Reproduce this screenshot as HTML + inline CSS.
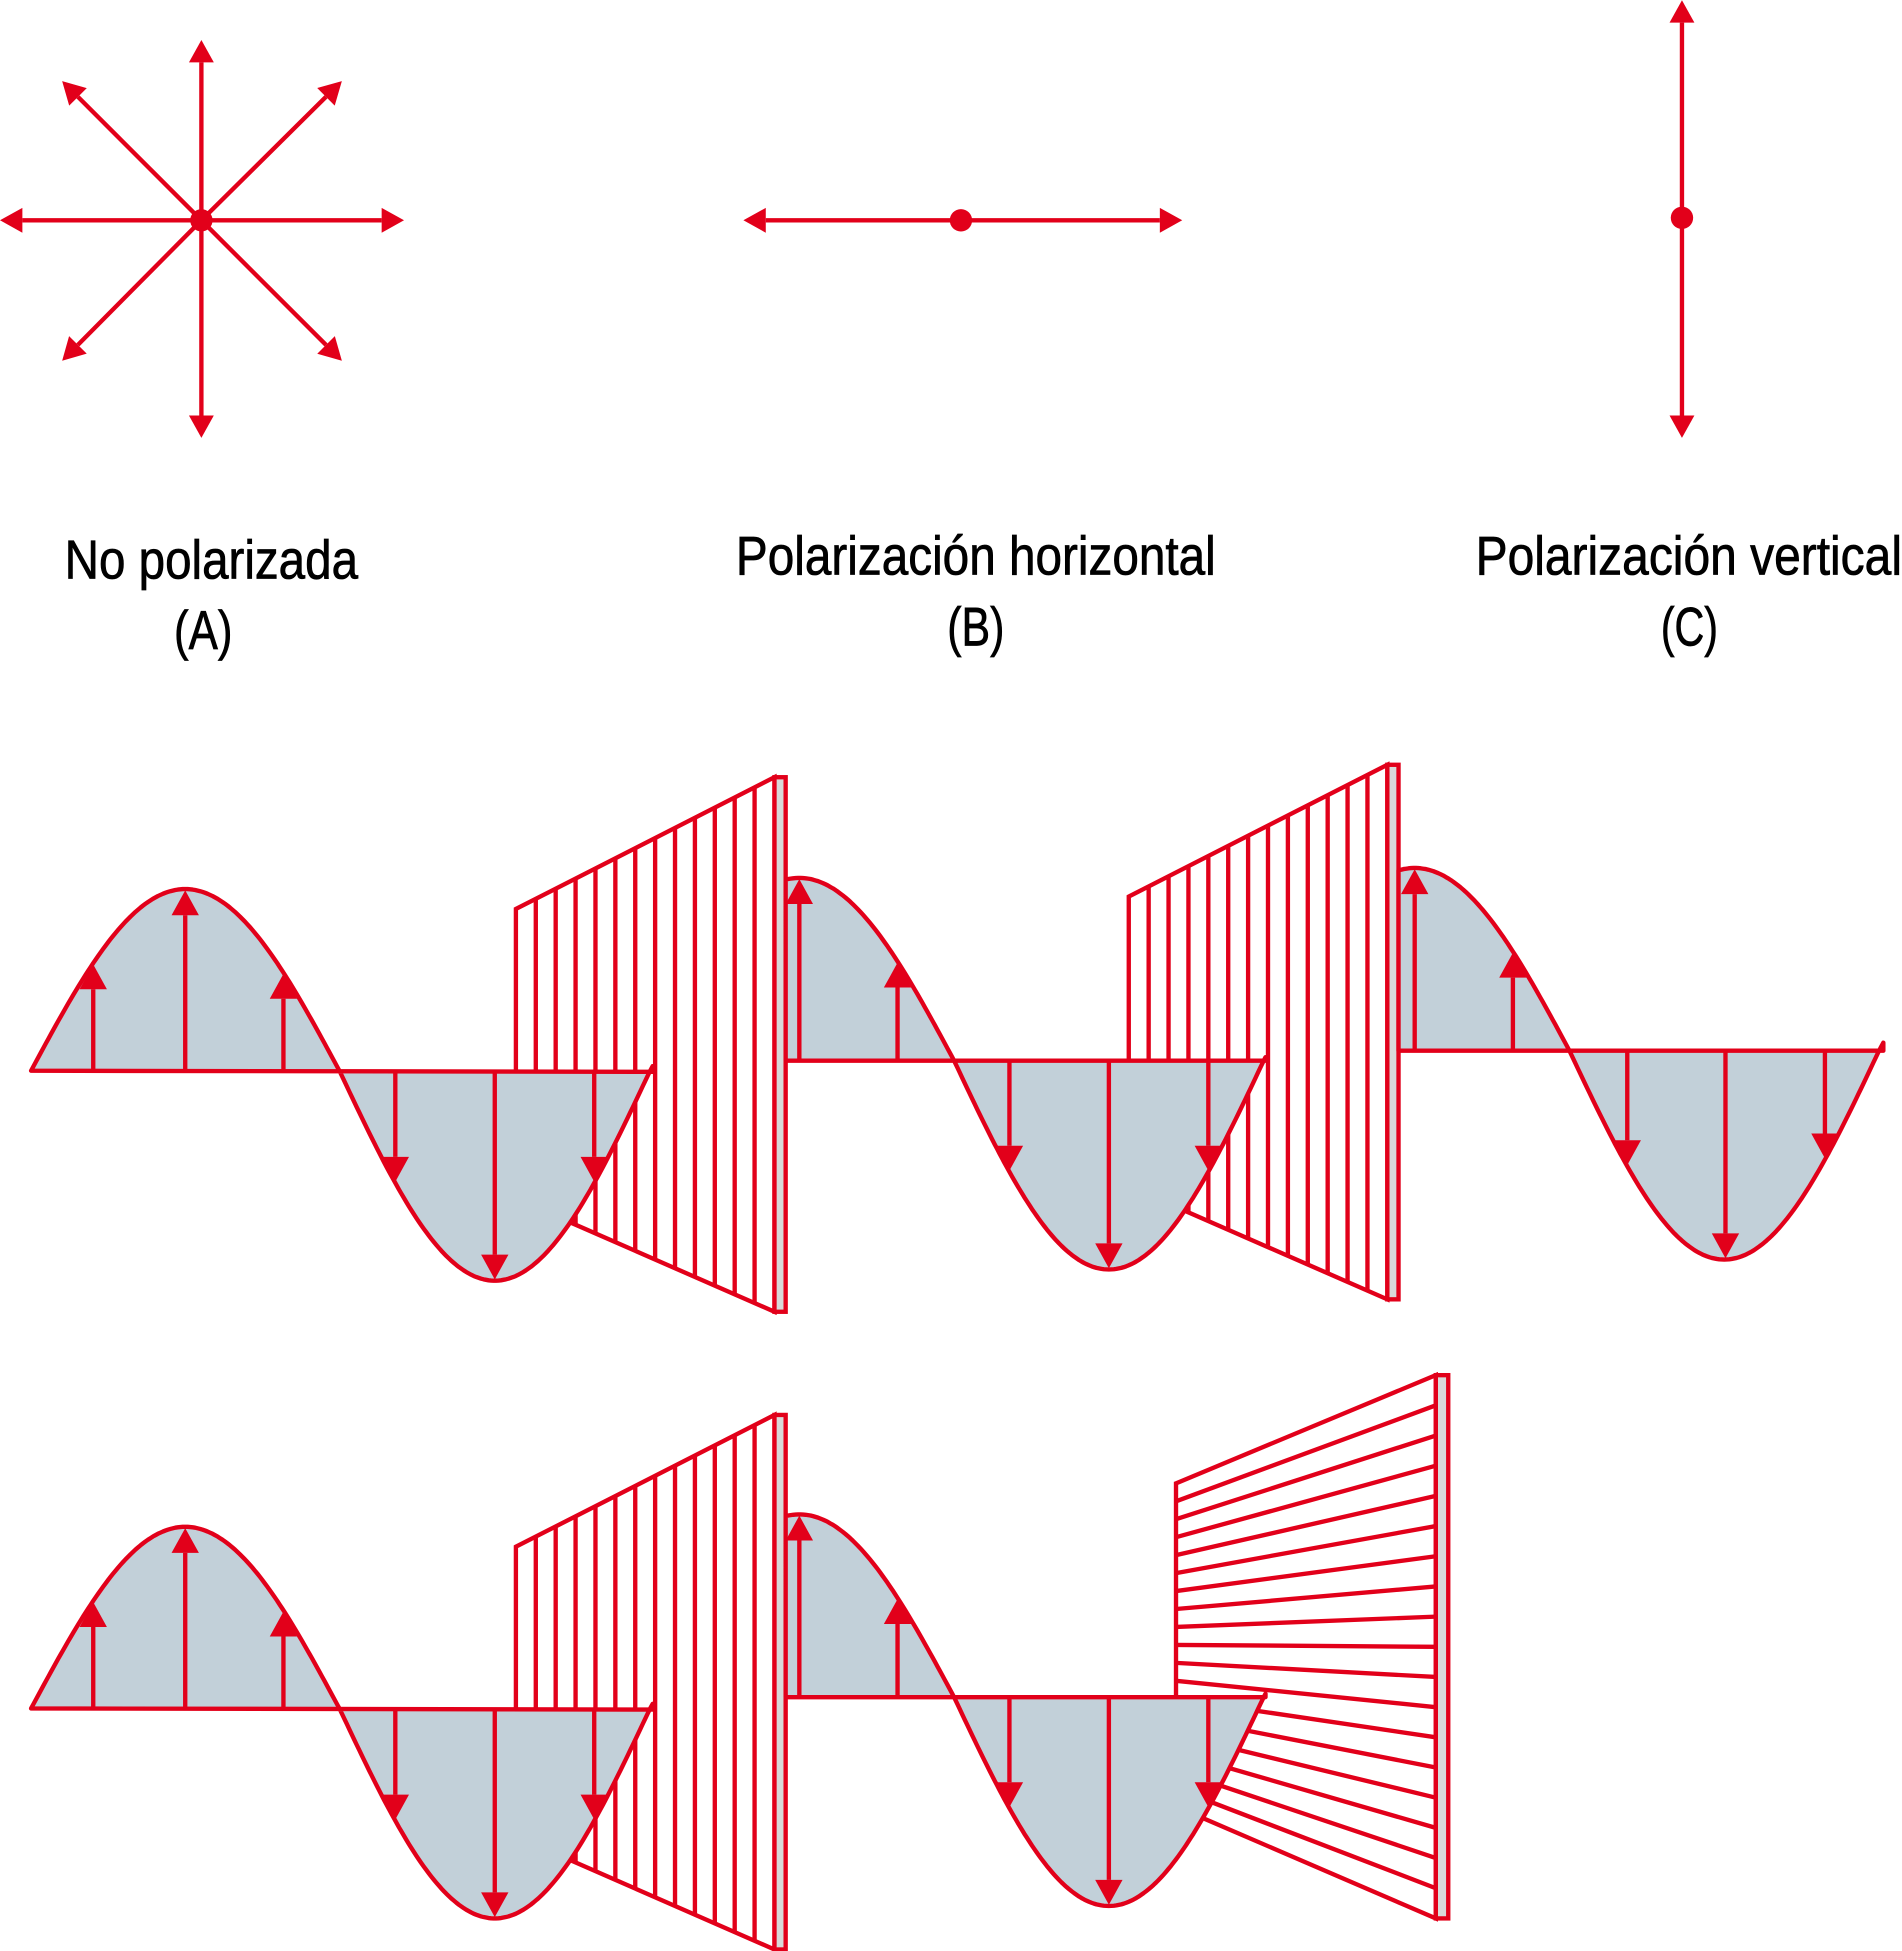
<!DOCTYPE html>
<html><head><meta charset="utf-8"><style>html,body{margin:0;padding:0;background:#fff}svg{display:block}</style></head>
<body>
<svg id="s" xmlns="http://www.w3.org/2000/svg" width="1902" height="1951" viewBox="0 0 1530 1569">
<g font-family="Liberation Sans, sans-serif" font-size="44" fill="#000" stroke="#000" stroke-width="0.6">
<text x="52" y="465" textLength="236" lengthAdjust="spacingAndGlyphs">No polarizada</text>
<text x="140" y="522" textLength="47" lengthAdjust="spacingAndGlyphs">(A)</text>
<text x="592" y="462" textLength="386" lengthAdjust="spacingAndGlyphs">Polarización horizontal</text>
<text x="762" y="519" textLength="46" lengthAdjust="spacingAndGlyphs">(B)</text>
<text x="1187" y="462" textLength="343" lengthAdjust="spacingAndGlyphs">Polarización vertical</text>
<text x="1336" y="519" textLength="46" lengthAdjust="spacingAndGlyphs">(C)</text>
</g>
<g id="g"></g>
</svg>
<script>
var R="#e2001a",F="#c2d0d9",out="",SW=3.5;
function arrow(x1,y1,x2,y2,L,W){var dx=x2-x1,dy=y2-y1,d=Math.hypot(dx,dy),ux=dx/d,uy=dy/d;var bx=x2-ux*L,by=y2-uy*L;
out+='<line x1="'+x1+'" y1="'+y1+'" x2="'+bx+'" y2="'+by+'" stroke="'+R+'" stroke-width="'+SW+'"/>';
out+='<polygon points="'+x2+','+y2+' '+(bx-uy*W/2)+','+(by+ux*W/2)+' '+(bx+uy*W/2)+','+(by-ux*W/2)+'" fill="'+R+'"/>';}
var cx=162,cy=177;
[[162,32],[162,352],[0,177],[325,177],[50,65],[275,65],[50,290],[275,290]].forEach(function(p){arrow(cx,cy,p[0],p[1],18,20);});
out+='<circle cx="162" cy="177" r="9" fill="'+R+'"/>';
arrow(773,177,598,177,18,20);arrow(773,177,951,177,18,20);out+='<circle cx="773" cy="177" r="9" fill="'+R+'"/>';
arrow(1353,175,1353,0,18,20);arrow(1353,175,1353,352,18,20);out+='<circle cx="1353" cy="175" r="9" fill="'+R+'"/>';
function polV(tx,ty){var xl=415,xr=623,tl=731,tr=625,bl=964,br=1055;
var s='<polygon points="'+(xl+tx)+','+(tl+ty)+' '+(xr+tx)+','+(tr+ty)+' '+(xr+tx)+','+(br+ty)+' '+(xl+tx)+','+(bl+ty)+'" fill="#fff" stroke="'+R+'" stroke-width="'+SW+'"/>';
for(var k=1;k<13;k++){var x=xl+k*16;var t=tl+(tr-tl)*(x-xl)/(xr-xl),b=bl+(br-bl)*(x-xl)/(xr-xl);
s+='<line x1="'+(x+tx)+'" y1="'+(t+ty)+'" x2="'+(x+tx)+'" y2="'+(b+ty)+'" stroke="'+R+'" stroke-width="'+SW+'"/>';}
s+='<rect x="'+(623+tx)+'" y="'+(625+ty)+'" width="9" height="430" fill="#d9d9d9" stroke="'+R+'" stroke-width="'+SW+'"/>';out+=s;}
polV(0,0);polV(493,-10);polV(0,513);
(function(){var xl=946,xr=1155,tl=1193,bl=1453,tr=1106,br=1543;
var s='<polygon points="'+xl+','+tl+' '+xr+','+tr+' '+xr+','+br+' '+xl+','+bl+'" fill="#fff" stroke="'+R+'" stroke-width="'+SW+'"/>';
var N=18;for(var i=1;i<N;i++){var yl=tl+(bl-tl)*i/N,yr=tr+(br-tr)*i/N;s+='<line x1="'+xl+'" y1="'+yl+'" x2="'+xr+'" y2="'+yr+'" stroke="'+R+'" stroke-width="'+SW+'"/>';}
s+='<rect x="1155" y="1106" width="10" height="437" fill="#d9d9d9" stroke="'+R+'" stroke-width="'+SW+'"/>';out+=s;})();
var A=862,P=498;
function wy(x){var c=Math.cos(2*Math.PI*(x-149)/P);return c>0?A-147*c:A-168*c;}
function wave(xa,xb,tx,ty,arrows,startAxis){var pts=[];for(var x=xa;x<=xb;x+=2)pts.push((x+tx)+','+(wy(x)+ty).toFixed(1));pts.push((xb+tx)+','+(wy(xb)+ty).toFixed(1));
var d=(startAxis?'M':'M'+(xa+tx)+','+(A+ty)+' L')+pts.join(' L')+' L'+(xb+tx)+','+(A+ty)+' Z';
out+='<path d="'+d+'" fill="'+F+'" stroke="'+R+'" stroke-width="'+SW+'" stroke-linejoin="round"/>';
arrows.forEach(function(x){arrow(x+tx,A+ty,x+tx,wy(x)+ty+(wy(x)<A?1:-1),20,22);});}
wave(25,525,0,0,[75,149,228,318,398,478],true);
wave(138,524,494,-9,[149,228,318,398,478]);
wave(136,526,989,-17,[149,228,320,399,479]);
wave(25,525,0,513,[75,149,228,318,398,478],true);
wave(138,524,494,503,[149,228,318,398,478]);
document.getElementById("g").innerHTML=out;
</script>
</body></html>
